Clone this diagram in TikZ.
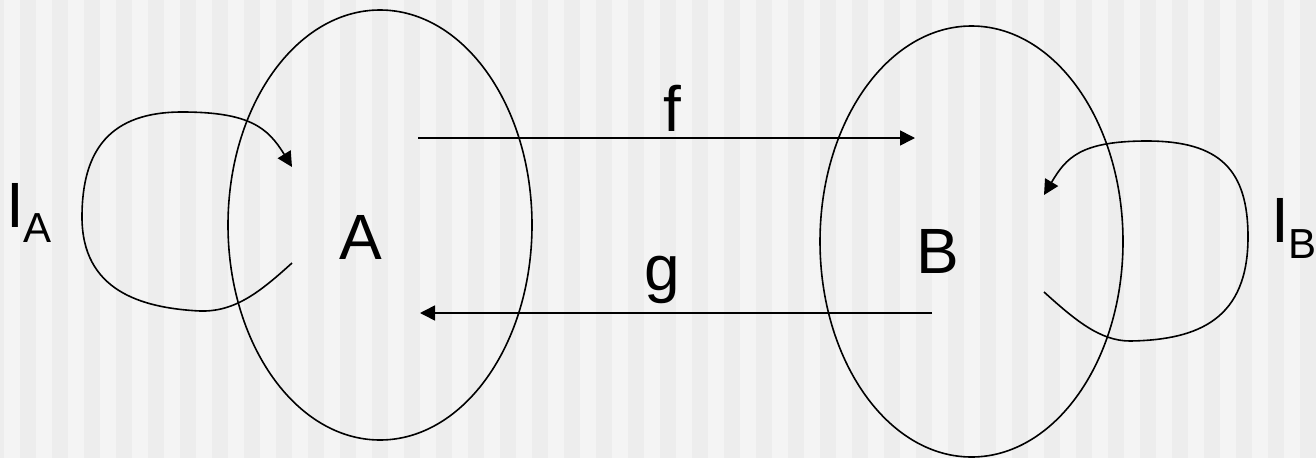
\documentclass[tikz,border=0pt]{standalone}
\usepackage{fontspec}
\setmainfont{Liberation Sans}
\usetikzlibrary{arrows.meta,shapes.geometric}
\definecolor{bglight}{HTML}{F4F4F4}
\definecolor{bgdark}{HTML}{EDEDED}
\begin{document}
\begin{tikzpicture}[x=1pt,y=-1pt,
  setshape/.style={draw, ellipse, line width=1.6pt, inner sep=0pt, outer sep=0pt},
  lab/.style={inner sep=0pt, outer sep=0pt, font=\fontsize{64}{70}\selectfont},
  conn/.style={line width=1.6pt, -{Triangle[length=15pt,width=15pt]}},
  loopline/.style={line width=1.6pt, -{Triangle[length=15pt,width=15pt]}}]
\useasboundingbox (0,0) rectangle (1316,458);
\fill[bglight] (0,0) rectangle (1316,458);
\foreach \i in {-1,...,41} \fill[bgdark] (20+32*\i,0) rectangle (36+32*\i,458);
% sets
\node[setshape, minimum width=304pt, minimum height=430pt] (setA) at (380,225) {};
\node[setshape, minimum width=303pt, minimum height=431pt] (setB) at (971.5,241.5) {};
% labels
\node[lab, anchor=base] (A) at (361,259) {A};
\node[lab, anchor=base] (B) at (938,273) {B};
\node[lab, anchor=base] (f) at (672.5,131) {f};
\node[lab, anchor=base] (g) at (662,290) {g};
\node[lab, anchor=base west] (IA) at (6,227) {I\raisebox{-15pt}{\fontsize{42}{46}\selectfont A}};
\node[lab, anchor=base west] (IB) at (1271,242) {I\raisebox{-16pt}{\fontsize{42}{46}\selectfont B}};
% arrow end points
\coordinate (fs) at (418,138);
\coordinate (fe) at (915,138);
\coordinate (gs) at (932,313);
\coordinate (ge) at (420,313);
\draw[conn] (fs) -- (fe);
\draw[conn] (gs) -- (ge);
% self loops
\coordinate (las) at (292,263);
\coordinate (lae) at (292,167);
\draw[loopline] (las) .. controls (260,292) and (235,312) .. (200,311)
  .. controls (140,308) and (82,290) .. (82,217)
  .. controls (82,150) and (110,112) .. (182,112)
  .. controls (250,112) and (268,128) .. (lae);
\coordinate (lbs) at (1044,292);
\coordinate (lbe) at (1044,195);
\draw[loopline] (lbs) .. controls (1075,320) and (1100,341) .. (1130,341)
  .. controls (1200,340) and (1248,318) .. (1248,237)
  .. controls (1248,170) and (1220,141) .. (1147,141)
  .. controls (1080,141) and (1066,158) .. (lbe);
\end{tikzpicture}
\end{document}
